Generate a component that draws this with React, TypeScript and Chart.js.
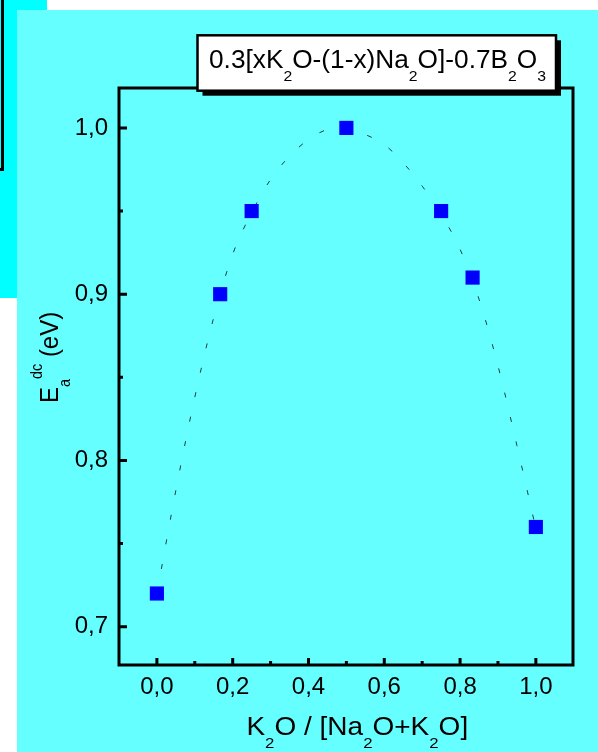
import React, { useEffect, useRef } from 'react';
import { Chart, registerables } from 'chart.js';

Chart.register(...registerables);

// ---- data ----
const xValues = [0, 0.167, 0.25, 0.5, 0.75, 0.833, 1.0];
const eaValues = [0.72, 0.9, 0.95, 1.0, 0.95, 0.91, 0.76];

const fitX = [0, 0.05, 0.1, 0.15, 0.2, 0.25, 0.3, 0.35, 0.4, 0.45, 0.5, 0.55, 0.6, 0.65, 0.7, 0.75, 0.8, 0.85, 0.9, 0.95, 1.0];
const fitY = [0.72, 0.782, 0.838, 0.886, 0.924, 0.949, 0.969, 0.983, 0.993, 0.999, 1.0, 0.996, 0.99, 0.979, 0.965, 0.948, 0.927, 0.897, 0.857, 0.809, 0.759];

const xMajorTicks = [0, 0.2, 0.4, 0.6, 0.8, 1.0];
const xMinorTicks = [0.1, 0.3, 0.5, 0.7, 0.9];
const yMajorTicks = [0.7, 0.8, 0.9, 1.0];
const yMinorTicks = [0.75, 0.85, 0.95];

type Part = { t: string; k?: 'sub' | 'sup' };
const legendParts: Part[] = [
  { t: '0.3[xK' }, { t: '2', k: 'sub' }, { t: 'O-(1-x)Na' }, { t: '2', k: 'sub' },
  { t: 'O]-0.7B' }, { t: '2', k: 'sub' }, { t: 'O' }, { t: '3', k: 'sub' },
];
const xTitleParts: Part[] = [
  { t: 'K' }, { t: '2', k: 'sub' }, { t: 'O / [Na' }, { t: '2', k: 'sub' }, { t: 'O+K' }, { t: '2', k: 'sub' }, { t: 'O]' },
];
const yTitleParts: Part[] = [
  { t: 'E' }, { t: 'a', k: 'sub' }, { t: 'dc', k: 'sup' }, { t: ' (eV)' },
];

const FAM = "'Liberation Sans', Arial, Helvetica, sans-serif";

function fmt(v: number) {
  return Number(v).toFixed(1).replace('.', ',');
}

function drawRich(ctx: CanvasRenderingContext2D, parts: Part[], size: number, align: 'left' | 'center', sx: number, sy: number, subDrop: number) {
  const subSize = size * 0.6;
  const widths: number[] = [];
  let w = 0;
  for (const p of parts) {
    ctx.font = `${p.k ? subSize : size}px ${FAM}`;
    const m = ctx.measureText(p.t).width;
    widths.push(m);
    w += m;
  }
  ctx.save();
  ctx.scale(sx, sy);
  ctx.textAlign = 'left';
  ctx.textBaseline = 'alphabetic';
  ctx.fillStyle = '#000';
  let cx = align === 'center' ? -w / 2 : 0;
  parts.forEach((p, i) => {
    ctx.font = `${p.k ? subSize : size}px ${FAM}`;
    const dy = p.k === 'sub' ? size * subDrop : p.k === 'sup' ? -size * 0.62 : 0;
    ctx.fillText(p.t, cx, dy);
    cx += widths[i];
  });
  ctx.restore();
}

const decor = {
  id: 'decor',
  beforeDatasetsDraw(chart: any) {
    const { ctx, chartArea } = chart;
    const xs = chart.scales.x;
    const ys = chart.scales.y;
    const { left, right, top, bottom } = chartArea;
    ctx.save();
    ctx.strokeStyle = '#000';
    ctx.lineWidth = 3;
    ctx.strokeRect(left, top, right - left, bottom - top);
    ctx.beginPath();
    for (const v of xMajorTicks) {
      const px = xs.getPixelForValue(v);
      ctx.moveTo(px, bottom);
      ctx.lineTo(px, bottom - 7);
    }
    for (const v of xMinorTicks) {
      const px = xs.getPixelForValue(v);
      ctx.moveTo(px, bottom);
      ctx.lineTo(px, bottom - 4);
    }
    for (const v of yMajorTicks) {
      const py = ys.getPixelForValue(v);
      ctx.moveTo(left, py);
      ctx.lineTo(left + 8, py);
    }
    for (const v of yMinorTicks) {
      const py = ys.getPixelForValue(v);
      ctx.moveTo(left, py);
      ctx.lineTo(left + 4, py);
    }
    ctx.stroke();
    ctx.restore();
  },
  afterDraw(chart: any) {
    const { ctx } = chart;
    // legend box with shadow
    const bx = 180.5, by = 25.3, bw = 358.5, bh = 55.4;
    ctx.save();
    ctx.fillStyle = '#000';
    ctx.fillRect(bx + 5, by + 5, bw, bh);
    ctx.fillStyle = '#fff';
    ctx.fillRect(bx, by, bw, bh);
    ctx.strokeStyle = '#000';
    ctx.lineWidth = 2.5;
    ctx.strokeRect(bx, by, bw, bh);
    ctx.translate(360.5, 58.3);
    drawRich(ctx, legendParts, 25, 'center', 1.05, 1, 0.5);
    ctx.restore();

    // x title
    ctx.save();
    ctx.translate(340.3, 725);
    drawRich(ctx, xTitleParts, 25, 'center', 1.12, 1, 0.5);
    ctx.restore();

    // y title
    ctx.save();
    ctx.translate(41, 393);
    ctx.rotate(-Math.PI / 2);
    drawRich(ctx, yTitleParts, 24, 'left', 1, 1.1, 0.45);
    ctx.restore();
  },
};

export default function App() {
  const ref = useRef<HTMLCanvasElement | null>(null);

  useEffect(() => {
    const canvas = ref.current;
    if (!canvas) return;
    const chart = new Chart(canvas, {
      type: 'scatter',
      data: {
        datasets: [
          {
            label: 'Ea',
            data: xValues.map((x, i) => ({ x, y: eaValues[i] })),
            pointStyle: 'rect',
            pointRadius: 10,
            pointHoverRadius: 10,
            pointBackgroundColor: '#0000FF',
            backgroundColor: '#0000FF',
            pointBorderWidth: 0,
            borderWidth: 0,
            showLine: false,
            order: 0,
          } as any,
          {
            label: 'fit',
            data: fitX.map((x, i) => ({ x, y: fitY[i] })),
            showLine: true,
            pointRadius: 0,
            pointHoverRadius: 0,
            borderColor: '#173f3f',
            borderWidth: 1,
            borderDash: [5, 20],
            cubicInterpolationMode: 'monotone',
            fill: false,
            order: 1,
          } as any,
        ],
      },
      options: {
        responsive: false,
        animation: false,
        events: [],
        layout: { padding: { top: 78, right: 25, left: 0, bottom: 0 } },
        plugins: {
          legend: { display: false },
          tooltip: { enabled: false },
          title: { display: false },
        },
        scales: {
          x: {
            type: 'linear',
            min: -0.1,
            max: 1.098,
            grid: { display: false, drawTicks: false },
            border: { display: false },
            ticks: {
              font: { family: FAM, size: 24 },
              color: '#000',
              padding: 8,
              maxRotation: 0,
              autoSkip: false,
              callback: (v: any) => fmt(v),
            },
            afterBuildTicks: (s: any) => {
              s.ticks = xMajorTicks.map((v) => ({ value: v }));
            },
            afterFit: (s: any) => {
              s.height = 87;
            },
          },
          y: {
            type: 'linear',
            min: 0.677,
            max: 1.024,
            grid: { display: false, drawTicks: false },
            border: { display: false },
            ticks: {
              font: { family: FAM, size: 24 },
              color: '#000',
              padding: 11,
              autoSkip: false,
              callback: (v: any) => fmt(v),
            },
            afterBuildTicks: (s: any) => {
              s.ticks = yMajorTicks.map((v) => ({ value: v }));
            },
            afterFit: (s: any) => {
              s.width = 102;
            },
          },
        },
      } as any,
      plugins: [decor],
    });
    return () => chart.destroy();
  }, []);

  return (
    <div style={{ position: 'fixed', left: 0, top: 0, width: 598, height: 752, background: '#ffffff', overflow: 'hidden' }}>
      <div style={{ position: 'absolute', left: 0, top: 0, width: 47, height: 298, background: '#00FFFF' }} />
      <div
        style={{
          position: 'absolute',
          left: -100,
          top: -10,
          width: 104,
          height: 181,
          boxSizing: 'border-box',
          border: '3px solid #000',
        }}
      />
      <div style={{ position: 'absolute', left: 17, top: 10, width: 581, height: 742, background: '#66FFFF' }}>
        <canvas ref={ref} width={581} height={742} style={{ display: 'block', width: 581, height: 742 }} />
      </div>
    </div>
  );
}
